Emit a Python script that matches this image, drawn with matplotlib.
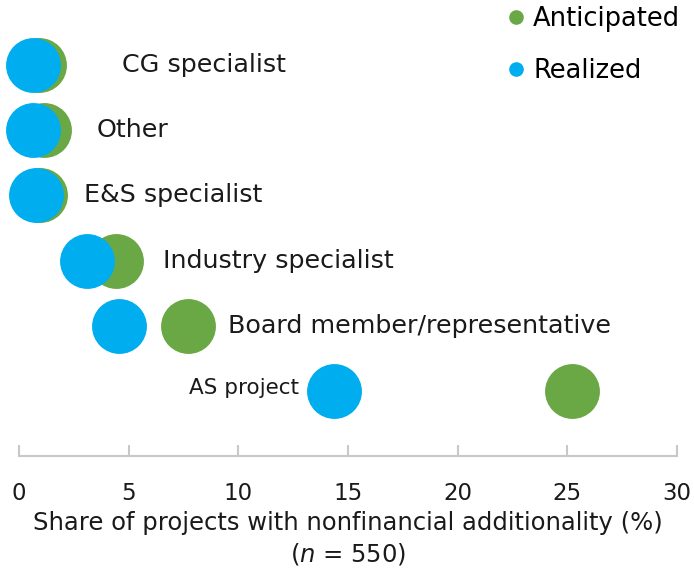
import matplotlib.pyplot as plt
from matplotlib.lines import Line2D

plt.rcParams['font.family'] = ['DejaVu Sans']

# share of projects (%) by source of nonfinancial additionality
roles = ["CG specialist", "Other", "E&S specialist", "Industry specialist",
         "Board member/representative", "AS project"]
anticipated = [0.93, 1.14, 0.95, 4.4, 7.7, 25.2]
realized = [0.62, 0.62, 0.76, 3.1, 4.55, 14.35]

GREEN = "#6aa745"
BLUE = "#00adef"

fig = plt.figure(figsize=(6.94, 5.71), dpi=100)
ax = fig.add_axes([0.0274, 0.2014, 0.9482, 0.7986])

rows = list(range(len(roles), 0, -1))  # first role on top
ax.scatter(anticipated, rows, s=1560, color=GREEN, linewidths=0, zorder=2, clip_on=False)
ax.scatter(realized, rows, s=1560, color=BLUE, linewidths=0, zorder=3, clip_on=False)

# role names sit beside the dots
label_x = [4.7, 3.55, 2.95, 6.55, 9.55, 12.75]
for name, lx, r in zip(roles, label_x, rows):
    if name == "AS project":
        ax.text(lx, r + 0.05, name, ha="right", va="center", fontsize=15.5, color="#1a1a1a")
    else:
        ax.text(lx, r, name, ha="left", va="center", fontsize=18.3, color="#1a1a1a")

ax.set_xlim(0, 30)
ax.set_ylim(0, 7)
ax.set_xticks(range(0, 31, 5))
ax.set_yticks([])
for side in ["left", "right", "top"]:
    ax.spines[side].set_visible(False)
ax.spines["bottom"].set_color("#c8c8c8")
ax.spines["bottom"].set_linewidth(1.5)
ax.tick_params(axis="x", direction="in", length=8, width=1.5, color="#c8c8c8",
               pad=19, labelsize=16.5, labelcolor="#1a1a1a")
ax.set_xlabel("Share of projects with nonfinancial additionality (%)\n($\\it{n}$ = 550)",
              fontsize=17.5, color="#1a1a1a", labelpad=4, linespacing=1.3)

handles = [Line2D([], [], marker="o", ls="", ms=9.5, color=GREEN, label="Anticipated"),
           Line2D([], [], marker="o", ls="", ms=9.5, color=BLUE, label="Realized")]
ax.legend(handles=handles, loc="upper right", bbox_to_anchor=(1.04, 1.037), frameon=False,
          fontsize=18.5, labelspacing=1.0, handletextpad=0.15, handlelength=1.0)

fig.savefig("out.png", dpi=100)
